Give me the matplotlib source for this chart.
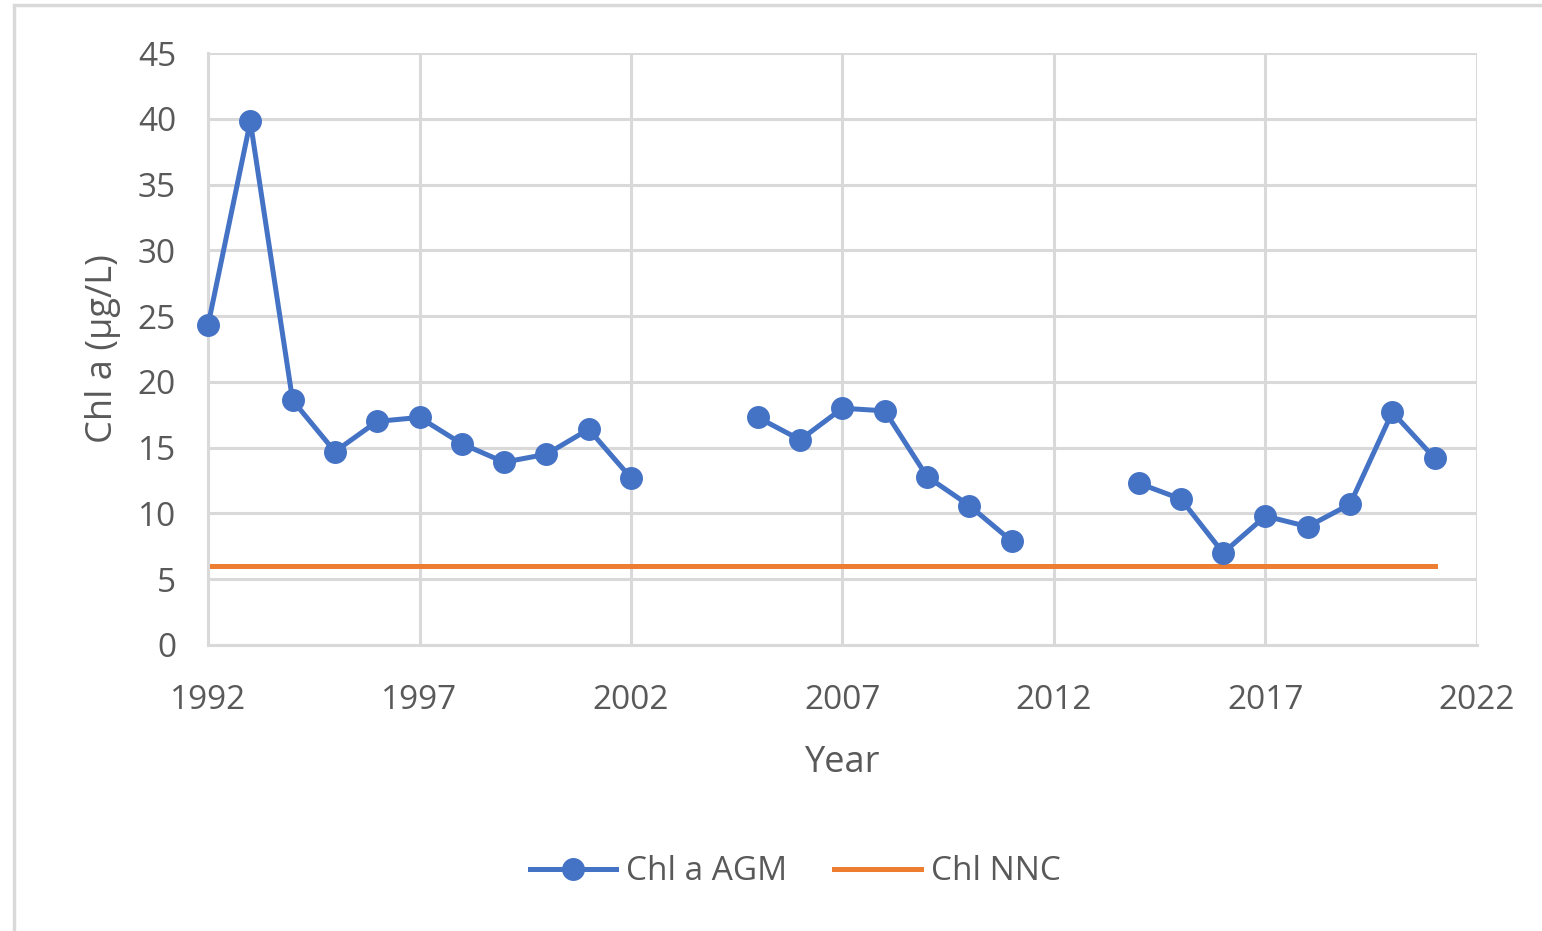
import numpy as np
import matplotlib.pyplot as plt
from matplotlib.patches import Rectangle

plt.rcParams['font.family'] = ['Open Sans', 'DejaVu Sans']

# Chl a AGM (µg/L) per rok, NaN = chybějící roky
years = [1992, 1993, 1994, 1995, 1996, 1997, 1998, 1999, 2000, 2001, 2002,
         2003, 2004, 2005, 2006, 2007, 2008, 2009, 2010, 2011,
         2012, 2013, 2014, 2015, 2016, 2017, 2018, 2019, 2020, 2021]
chl_agm = [24.3, 39.8, 18.6, 14.7, 17.0, 17.3, 15.3, 13.9, 14.5, 16.4, 12.7,
           np.nan, np.nan, 17.3, 15.6, 18.0, 17.8, 12.8, 10.6, 7.9,
           np.nan, np.nan, 12.3, 11.1, 7.0, 9.8, 9.0, 10.7, 17.7, 14.2]
nnc_years = [1992, 2021]
nnc_value = [6, 6]

x_ticks = [1992, 1997, 2002, 2007, 2012, 2017, 2022]
y_ticks = [0, 5, 10, 15, 20, 25, 30, 35, 40, 45]

BLUE = '#4472C4'
ORANGE = '#ED7D31'
TXT = '#595959'

fig = plt.figure(figsize=(15.42, 9.31), dpi=100)
ax = fig.add_axes([0.1349, 0.3072, 0.8229, 0.6358])

ax.plot(years, chl_agm, color=BLUE, lw=3.6, marker='o', ms=15.5,
        label='Chl a AGM', zorder=3, clip_on=False)
ax.plot(nnc_years, nnc_value, color=ORANGE, lw=3.6, label='Chl NNC', zorder=2)

ax.set_xlim(1992, 2022)
ax.set_ylim(0, 45)
ax.set_xticks(x_ticks)
ax.set_yticks(y_ticks)
ax.grid(True, color='#D9D9D9', lw=2.2)
ax.set_axisbelow(True)
for s in ['top', 'right']:
    ax.spines[s].set_visible(False)
for s in ['left', 'bottom']:
    ax.spines[s].set_color('#D9D9D9')
    ax.spines[s].set_linewidth(2.2)
ax.tick_params(length=0, labelsize=24, colors=TXT)
ax.tick_params(axis='x', pad=28)
ax.tick_params(axis='y', pad=23)

ax.set_xlabel('Year', fontsize=26, color=TXT, labelpad=20)
ax.set_ylabel('Chl a (µg/L)', fontsize=26, color=TXT, labelpad=12)

leg = fig.legend(loc='center', bbox_to_anchor=(0.5156, 0.0634), ncol=2,
                 frameon=False, fontsize=24, handlelength=2.6,
                 columnspacing=1.4, handletextpad=0.3)
for t in leg.get_texts():
    t.set_color(TXT)

# rámeček kolem grafu
fig.patches.append(Rectangle((0.009, -0.01), 1.0, 1.005, transform=fig.transFigure,
                             fill=False, edgecolor='#D9D9D9', lw=2.5))

fig.savefig('out.png', dpi=100)
